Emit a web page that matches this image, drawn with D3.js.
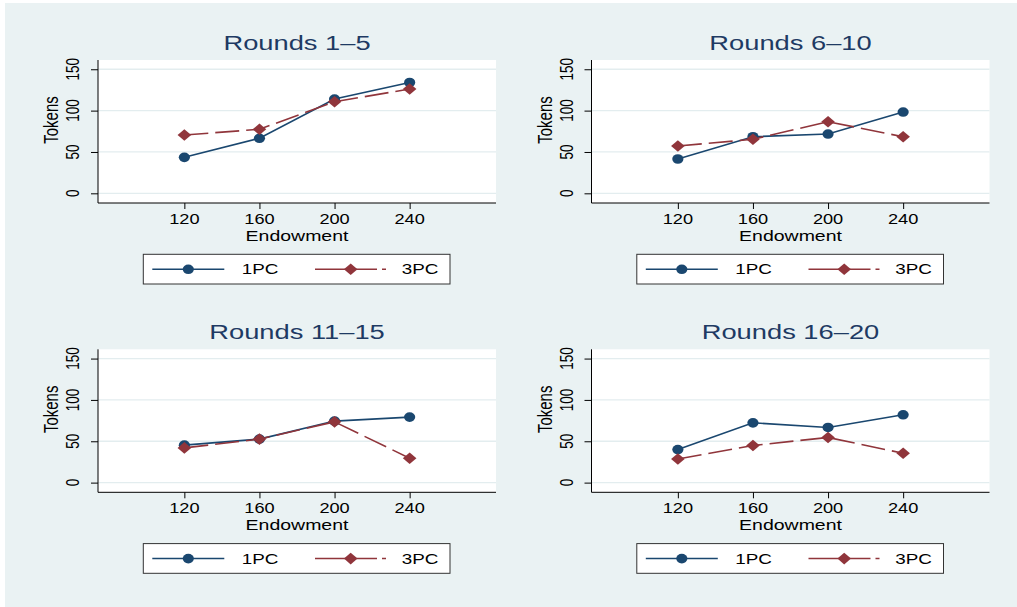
<!DOCTYPE html>
<html>
<head>
<meta charset="utf-8">
<script src="https://cdn.jsdelivr.net/npm/d3@7"></script>
<style>
  body { margin: 0; background: #fff; }
  text { font-family: "Liberation Sans", Arial, sans-serif; }
</style>
</head>
<body>
<script>
// data
const endowment = [120, 160, 200, 240]
const panelTitles = ["Rounds 1\u20135", "Rounds 6\u201310", "Rounds 11\u201315", "Rounds 16\u201320"]
const seriesNames = ["1PC", "3PC"]
const onePC = [
    [43.5, 66.5, 114, 134],
    [41.5, 68.4, 71.7, 98.3],
    [45.3, 52.6, 74.4, 79.2],
    [40, 72.3, 66.7, 82]
]
const threePC = [
    [70.5, 77.4, 110.8, 126.1],
    [57.2, 65.3, 86.6, 68.4],
    [42, 52.6, 73.5, 29.5],
    [28.6, 44.9, 54.6, 35.5]
]
const yTicks = [0, 50, 100, 150]

// look
const width = 1017
const height = 607
const bgcolor = "#eaf2f3"
const navy = "#1a476f"
const maroon = "#90353b"
const titlecolor = "#1e3a63"
const stretch = 1.3   // the picture is wider than it is tall, text too

const colLeft = [98, 591.5]
const rowTop = [60, 349.3]
const plotW = 398
const plotH = 143

const dotRx = 5.6, dotRy = 4.8
const diaX = 6.8, diaY = 5.8

const svg = d3.select("body").append("svg")
    .attr("width", width)
    .attr("height", height)

svg.append("rect")
    .attr("x", 5).attr("y", 3)
    .attr("width", width - 5).attr("height", height - 3)
    .attr("fill", bgcolor)

function stretchedText(g, x, y, rot) {
    return g.append("text")
        .attr("transform", "translate(" + x + "," + y + ") scale(" + stretch + ",1)" + (rot ? " rotate(" + rot + ")" : ""))
}

function diamond(cx, cy) {
    return "M" + (cx - diaX) + "," + cy + "L" + cx + "," + (cy - diaY) + "L" + (cx + diaX) + "," + cy + "L" + cx + "," + (cy + diaY) + "Z"
}

function drawPanel(i) {
    let left = colLeft[i % 2]
    let top = rowTop[Math.floor(i / 2)]
    let g = svg.append("g").attr("transform", "translate(" + left + "," + top + ")")

    let x = d3.scaleLinear().domain([74, 286]).range([0, plotW])
    let y = d3.scaleLinear().domain([-11.7, 161.2]).range([plotH, 0])

    g.append("rect")
        .attr("width", plotW).attr("height", plotH)
        .attr("fill", "#fff")

    g.selectAll(".grid").data(yTicks).enter().append("line")
        .attr("x1", 0).attr("x2", plotW)
        .attr("y1", d => y(d)).attr("y2", d => y(d))
        .attr("stroke", "#e3edef")
        .attr("stroke-width", 1.3)

    // y axis
    let ya = g.append("g").call(d3.axisLeft(y).tickValues(yTicks).tickSize(7).tickSizeOuter(0).tickFormat(""))
    ya.select(".domain").attr("stroke", "#000").attr("d", "M0,0V" + plotH)
    ya.selectAll(".tick line").attr("stroke", "#000")
    yTicks.forEach(t => {
        stretchedText(g, -19, y(t), -90)
            .attr("text-anchor", "middle")
            .attr("font-size", 13.5)
            .attr("fill", "#000")
            .text(t)
    })

    // x axis
    let xa = g.append("g").attr("transform", "translate(0," + plotH + ")")
        .call(d3.axisBottom(x).tickValues(endowment).tickSize(6).tickSizeOuter(0).tickFormat(""))
    xa.select(".domain").attr("stroke", "#000").attr("d", "M0,0H" + plotW)
    xa.selectAll(".tick line").attr("stroke", "#000")
    endowment.forEach(t => {
        stretchedText(g, x(t), plotH + 20.5)
            .attr("text-anchor", "middle")
            .attr("font-size", 14)
            .attr("fill", "#000")
            .text(t)
    })

    stretchedText(g, plotW / 2, plotH + 37.7)
        .attr("text-anchor", "middle")
        .attr("font-size", 15)
        .attr("fill", "#000")
        .text("Endowment")
    stretchedText(g, -40, plotH / 2 - 11.5, -90)
        .attr("text-anchor", "middle")
        .attr("font-size", 15)
        .attr("fill", "#000")
        .text("Tokens")
    stretchedText(g, plotW / 2, -10)
        .attr("text-anchor", "middle")
        .attr("font-size", 21)
        .attr("fill", titlecolor)
        .text(panelTitles[i])

    let line = d3.line().x((d, j) => x(endowment[j])).y(d => y(d))

    g.append("path").datum(onePC[i])
        .attr("d", line)
        .attr("fill", "none")
        .attr("stroke", navy)
        .attr("stroke-width", 1.6)
    g.append("path").datum(threePC[i])
        .attr("d", line)
        .attr("fill", "none")
        .attr("stroke", maroon)
        .attr("stroke-width", 1.6)
        .attr("stroke-dasharray", "24,7")

    g.selectAll(".dot").data(onePC[i]).enter().append("ellipse")
        .attr("cx", (d, j) => x(endowment[j]))
        .attr("cy", d => y(d))
        .attr("rx", dotRx).attr("ry", dotRy)
        .attr("fill", navy)
    g.selectAll(".dia").data(threePC[i]).enter().append("path")
        .attr("d", (d, j) => diamond(x(endowment[j]), y(d)))
        .attr("fill", maroon)

    // legend
    let lg = g.append("g").attr("transform", "translate(" + (143.3 - 98) + "," + (254.3 - 60) + ")")
    lg.append("rect")
        .attr("width", 306.7).attr("height", 29.7)
        .attr("fill", "#fff")
        .attr("stroke", "#333")
        .attr("stroke-width", 1)
    let ly = 15
    lg.append("line")
        .attr("x1", 9).attr("x2", 81).attr("y1", ly).attr("y2", ly)
        .attr("stroke", navy).attr("stroke-width", 1.5)
    lg.append("ellipse")
        .attr("cx", 45).attr("cy", ly).attr("rx", dotRx).attr("ry", dotRy)
        .attr("fill", navy)
    stretchedText(lg, 98.4, ly + 5)
        .attr("font-size", 14.5)
        .attr("fill", "#000")
        .text(seriesNames[0])
    lg.append("line")
        .attr("x1", 171.7).attr("x2", 243.4).attr("y1", ly).attr("y2", ly)
        .attr("stroke", maroon).attr("stroke-width", 1.5)
        .attr("stroke-dasharray", "62,5,4")
    lg.append("path")
        .attr("d", diamond(207.4, ly))
        .attr("fill", maroon)
    stretchedText(lg, 258.4, ly + 5)
        .attr("font-size", 14.5)
        .attr("fill", "#000")
        .text(seriesNames[1])
}

for (var i = 0; i < 4; i++) {
    drawPanel(i)
}
</script>
</body>
</html>
